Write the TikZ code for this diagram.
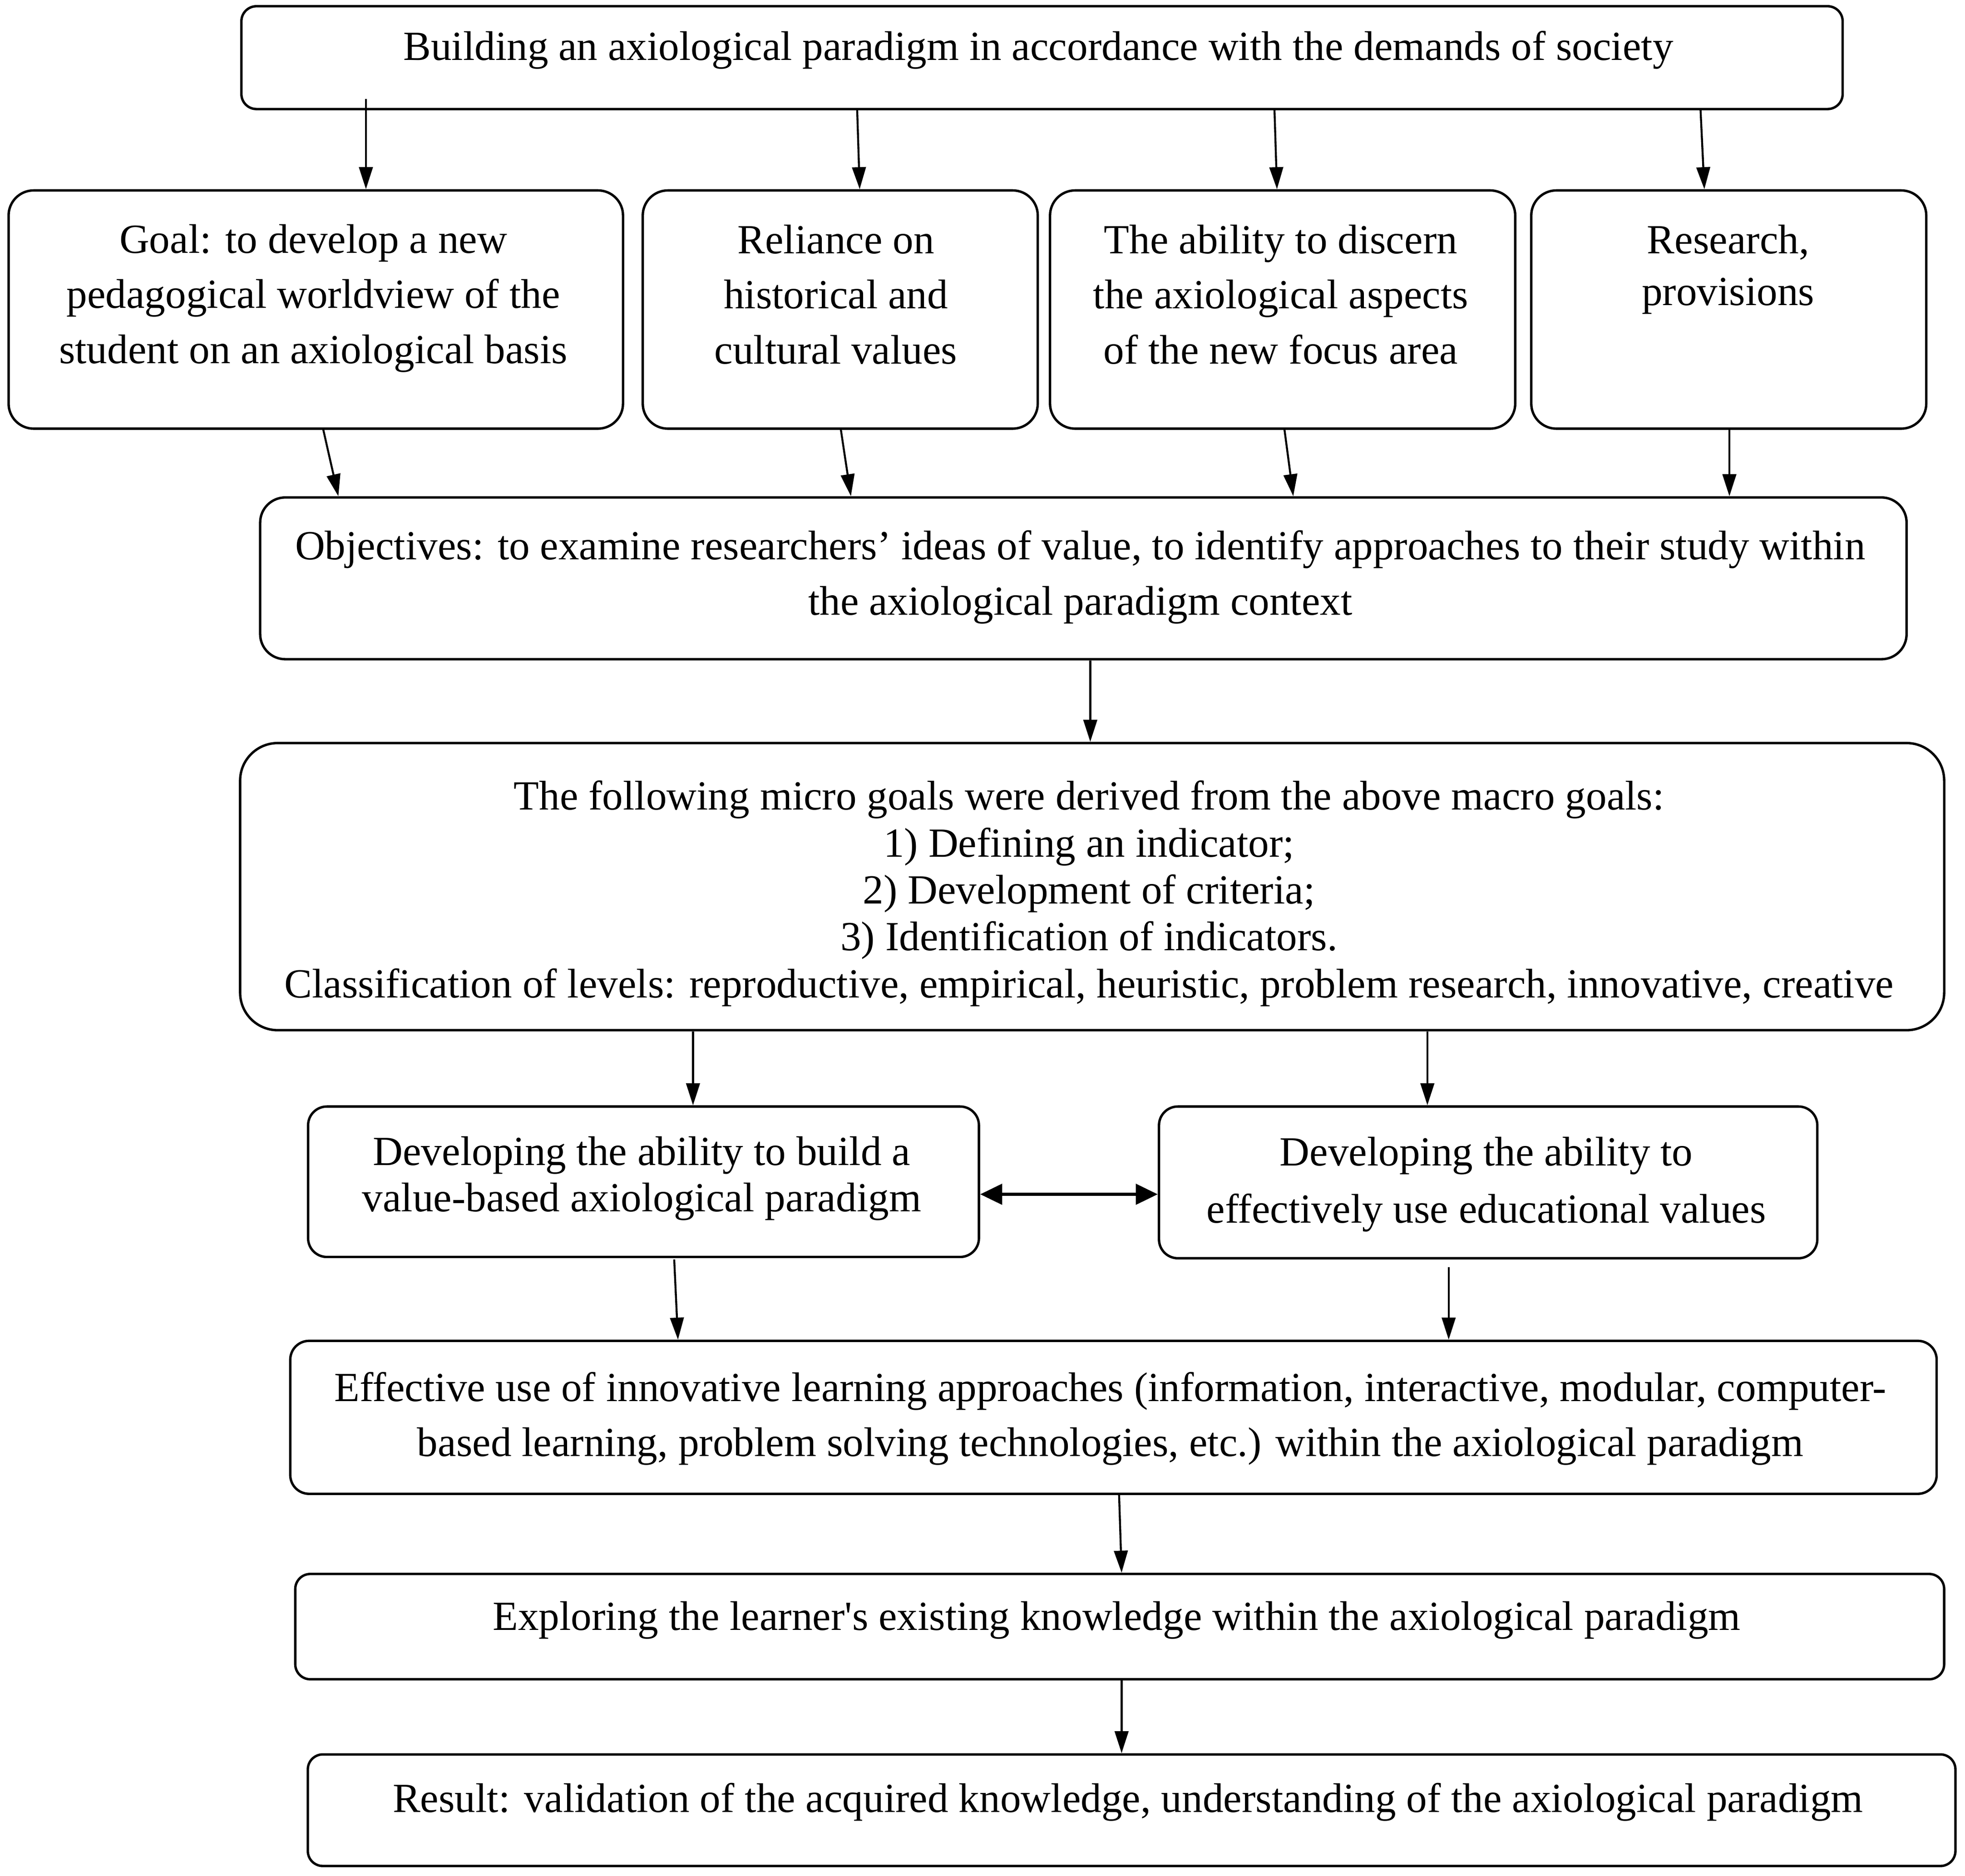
\documentclass[tikz,border=0pt]{standalone}
\usepackage{fontspec}
\setmainfont{Liberation Serif}
\usetikzlibrary{positioning, calc, arrows.meta}
\tikzset{
box/.style={draw, line width=0.55pt, rounded corners=0.2cm, inner sep=0pt}, % plain rounded frame
txt/.style={align=center, inner sep=0pt}, % text inside the frames
link/.style={-{Triangle[length=5pt, width=3.1pt]}, line width=0.45pt}, % ordinary arrow
}

\begin{document}
\begin{tikzpicture}[x=0.01cm, y=-0.01cm, font=\fontsize{9.4}{12.5}\selectfont]
    \useasboundingbox (0,0) rectangle (1568,1497);

    % frames
    \node[box, rounded corners=0.12cm, minimum width=12.77cm, minimum height=0.82cm] (top) at (831.5,46) {};
    \node[box, minimum width=4.90cm, minimum height=1.90cm] (goal) at (252,247) {};
    \node[box, minimum width=3.15cm, minimum height=1.90cm] (reliance) at (670.5,247) {};
    \node[box, minimum width=3.71cm, minimum height=1.90cm] (ability) at (1023.5,247) {};
    \node[box, minimum width=3.15cm, minimum height=1.90cm] (research) at (1379.5,247) {};
    \node[box, minimum width=13.13cm, minimum height=1.29cm] (objectives) at (864.5,461.5) {};
    \node[box, rounded corners=0.3cm, minimum width=13.59cm, minimum height=2.29cm] (micro) at (871.5,707.5) {};
    \node[box, rounded corners=0.15cm, minimum width=5.35cm, minimum height=1.20cm] (dev1) at (513.5,943) {};
    \node[box, rounded corners=0.15cm, minimum width=5.25cm, minimum height=1.21cm] (dev2) at (1187.5,943.5) {};
    \node[box, rounded corners=0.15cm, minimum width=13.13cm, minimum height=1.22cm] (effective) at (888.5,1131) {};
    \node[box, rounded corners=0.12cm, minimum width=13.15cm, minimum height=0.84cm] (exploring) at (893.5,1298) {};
    \node[box, rounded corners=0.12cm, minimum width=13.14cm, minimum height=0.89cm] (result) at (903,1444.5) {};

    % texts
    \node[txt] (ttop) at (828.5,40) {Building an axiological paradigm in accordance with the demands of society};
    \node[txt] (tgoal) at (250,238) {Goal: to develop a new\\pedagogical worldview of the\\student on an axiological basis};
    \node[txt] (treliance) at (667,235) {Reliance on\\historical and\\cultural values};
    \node[txt] (tability) at (1022,235) {The ability to discern\\the axiological aspects\\of the new focus area};
    \node[txt, font=\fontsize{9.4}{11.8}\selectfont] (tresearch) at (1379,215) {Research,\\provisions};
    \node[txt] (tobjectives) at (862,460.5) {Objectives: to examine researchers’ ideas of value, to identify approaches to their study within\\the axiological paradigm context};
    \node[txt, font=\fontsize{9.4}{10.65}\selectfont] (tmicro) at (869,713) {The following micro goals were derived from the above macro goals:\\1) Defining an indicator;\\2) Development of criteria;\\3) Identification of indicators.\\Classification of levels: reproductive, empirical, heuristic, problem research, innovative, creative};
    \node[txt, font=\fontsize{9.4}{10.5}\selectfont] (tdev1) at (512,940.5) {Developing the ability to build a\\value-based axiological paradigm};
    \node[txt, font=\fontsize{9.4}{13}\selectfont] (tdev2) at (1186,945) {Developing the ability to\\effectively use educational values};
    \node[txt] (teffective) at (886,1132) {Effective use of innovative learning approaches (information, interactive, modular, computer-\\based learning, problem solving technologies, etc.) within the axiological paradigm};
    \node[txt] (texploring) at (891,1293) {Exploring the learner\textquotesingle s existing knowledge within the axiological paradigm};
    \node[txt] (tresult) at (900,1438) {Result: validation of the acquired knowledge, understanding of the axiological paradigm};

    % arrows
    \draw[link] ($(top.south)+(-539.5,-9)$) -- ($(goal.north)+(40,0)$);
    \draw[link] ($(top.south)+(-147.5,0)$) -- ($(reliance.north)+(15.5,0)$);
    \draw[link] ($(top.south)+(185.5,0)$) -- ($(ability.north)+(-4.5,0)$);
    \draw[link] ($(top.south)+(525.5,0)$) -- ($(research.north)+(-19.5,0)$);

    \draw[link] ($(goal.south)+(6,0)$) -- ($(objectives.north)+(-594.5,0)$);
    \draw[link] ($(reliance.south)+(0.5,0)$) -- ($(objectives.north)+(-185.5,0)$);
    \draw[link] ($(ability.south)+(1.5,0)$) -- ($(objectives.north)+(167.5,0)$);
    \draw[link] ($(research.south)+(0.5,0)$) -- ($(objectives.north)+(515.5,0)$);

    \draw[link] ($(objectives.south)+(5.5,0)$) -- ($(micro.north)+(-1.5,0)$);
    \draw[link] ($(micro.south)+(-318.5,0)$) -- ($(dev1.north)+(39.5,0)$);
    \draw[link] ($(micro.south)+(267.5,0)$) -- ($(dev2.north)+(-48.5,0)$);

    \draw[{Triangle[length=5pt, width=4.6pt]}-{Triangle[length=5pt, width=4.6pt]}, line width=0.8pt]
      ($(dev1.east)+(0,10)$) -- ($(dev2.west)+(0,9.5)$);

    \draw[link] ($(dev1.south)+(24.5,1)$) -- ($(effective.north)+(-347.5,0)$);
    \draw[link] ($(dev2.south)+(-31.5,6)$) -- ($(effective.north)+(267.5,0)$);
    \draw[link] ($(effective.south)+(4.5,0)$) -- ($(exploring.north)+(1.5,0)$);
    \draw[link] ($(exploring.south)+(1.5,0)$) -- ($(result.north)+(-8,0)$);
\end{tikzpicture}
\end{document}
